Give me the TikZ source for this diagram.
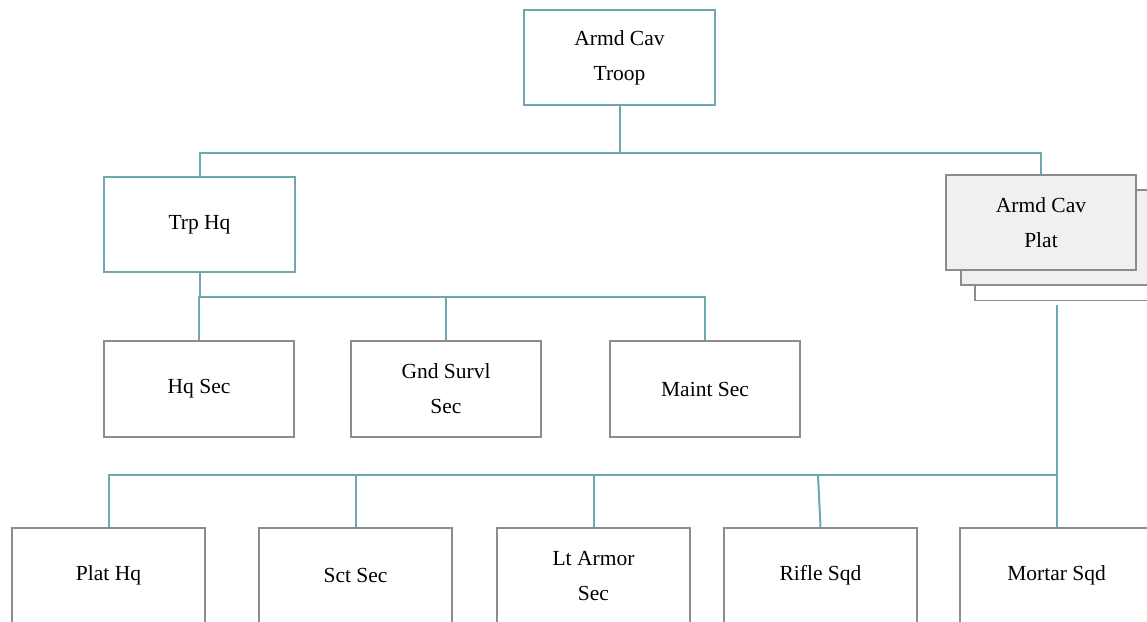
\documentclass[tikz,border=0pt]{standalone}
\usepackage{fontspec}
\setmainfont{Liberation Serif}
\usepackage{tikz}
\usetikzlibrary{positioning}
\definecolor{linkteal}{RGB}{110,168,174}
\definecolor{boxgray}{RGB}{140,140,140}
\definecolor{platfill}{RGB}{240,240,240}
\tikzset
{
    hqbox/.style   = {rectangle, draw=linkteal, line width=1.8pt, align=center, minimum width=191pt, minimum height=95pt, fill=white, font=\fontsize{21.5}{35}\selectfont},
    secbox/.style  = {rectangle, draw=boxgray, line width=1.8pt, align=center, minimum width=190pt, minimum height=96pt, fill=white, font=\fontsize{21.5}{35}\selectfont},
    sqdbox/.style  = {secbox, minimum width=193pt, minimum height=95pt},
    platbox/.style = {secbox, fill=platfill, minimum height=95pt},
    link/.style    = {draw=linkteal, line width=2pt}
}
\begin{document}
\begin{tikzpicture}[x=1pt, y=-1pt]
	\useasboundingbox (0,0) rectangle (1147,621);
	% top level
	\node[hqbox] (troop) at (619.5,57.5) {Armd Cav\\Troop};
	\node[hqbox] (trphq) at (199.5,224.5) {Trp Hq};
	% stacked platoons
	\node[secbox] (platC) at (1070,252.5) {};
	\node[platbox] (platB) at (1056,237.5) {};
	\node[platbox] (plat) at (1041,222.5) {Armd Cav\\Plat};
	% troop hq sections
	\node[secbox] (hqsec) at (199,389) {Hq Sec};
	\node[secbox] (gndsec) at (446,389) {Gnd Survl\\Sec};
	\node[secbox] (maintsec) at (705,389) {Maint Sec};
	% platoon elements
	\node[sqdbox] (plathq) at (108.5,575.5) {Plat Hq};
	\node[sqdbox] (sctsec) at (355.5,575.5) {Sct Sec};
	\node[sqdbox] (armorsec) at (593.5,575.5) {Lt Armor\\Sec};
	\node[sqdbox] (riflesqd) at (820.5,575.5) {Rifle Sqd};
	\node[sqdbox] (mortarsqd) at (1056.5,575.5) {Mortar Sqd};

	\coordinate (troopj) at (619.5,153);
	\coordinate (trphqj) at (199.5,297);
	\coordinate (platout) at (1056.5,305);
	\coordinate (platj) at (1056.5,475);
	\coordinate (riflej) at (818,475);

	\path[link] (troop.south) -- (troopj);
	\path[link] (troopj) -| (trphq.north);
	\path[link] (troopj) -| (plat.north);
	\path[link] (trphq.south) -- (trphqj);
	\path[link] (trphqj) -| (hqsec.north);
	\path[link] (trphqj) -| (gndsec.north);
	\path[link] (trphqj) -| (maintsec.north);
	\path[link] (platout) -- (mortarsqd.north);
	\path[link] (platj) -| (plathq.north);
	\path[link] (platj) -| (sctsec.north);
	\path[link] (platj) -| (armorsec.north);
	\path[link] (riflej) -- (riflesqd.north);
\end{tikzpicture}
\end{document}
